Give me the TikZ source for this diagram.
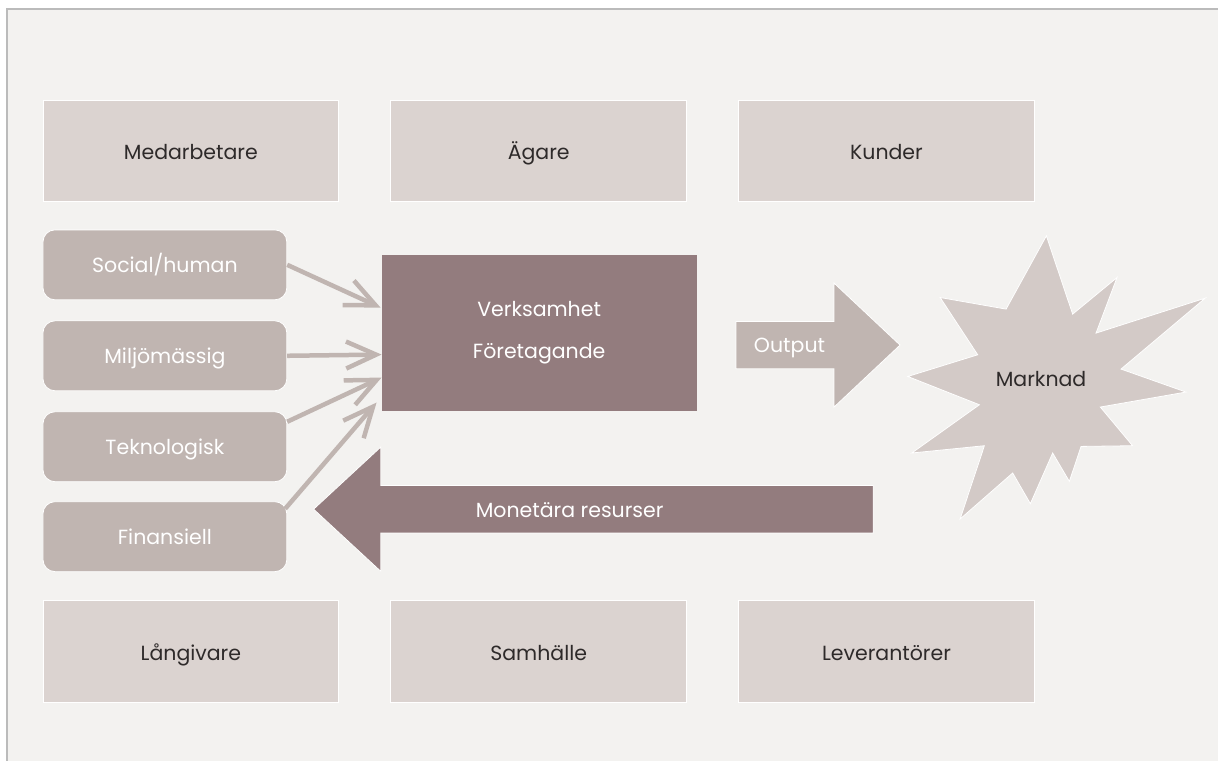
\documentclass[tikz,border=0pt]{standalone}
\usepackage{fontspec}
\setmainfont{Poppins}
\usetikzlibrary{arrows.meta,calc}
\definecolor{bg}{HTML}{F3F2F0}
\definecolor{pale}{HTML}{DBD3D0}
\definecolor{mid}{HTML}{C0B5B1}
\definecolor{dark}{HTML}{937C7E}
\definecolor{starc}{HTML}{D3CAC7}
\definecolor{framec}{HTML}{BBBBBB}
\definecolor{txt}{HTML}{2E2A2A}
\begin{document}
\begin{tikzpicture}[x=1pt,y=-1pt,
  lbl/.style={font=\fontsize{20.5}{24}\selectfont, inner sep=0pt},
  stake/.style={lbl, fill=pale, draw=white, line width=0.8pt, minimum width=296pt, minimum height=102pt, text=txt, text height=18pt, text depth=0pt},
  capital/.style={lbl, fill=mid, draw=white, line width=0.8pt, rounded corners=12pt, minimum width=244pt, minimum height=70pt, text=white, text height=15pt, text depth=0pt},
  core/.style={lbl, fill=dark, minimum width=315pt, minimum height=156pt, text=white, align=center, font=\fontsize{20.5}{42}\selectfont},
  feed/.style={draw=mid, line width=4.5pt, -{Straight Barb[length=30pt,width=27pt]}},
  bigarrow/.style={draw=white, line width=0.8pt}
]
% canvas
\fill[white] (0,0) rectangle (1219,761);
\fill[bg] (7,9) rectangle (1219,761);
\draw[framec, line width=1.5pt] (7,761) -- (7,9) -- (1219,9);
\useasboundingbox (0,0) rectangle (1219,761);

% stakeholders
\node[stake] (med) at (191,151) {Medarbetare};
\node[stake] (aga) at (539,151) {Ägare};
\node[stake] (kun) at (887,151) {Kunder};
\node[stake] (lan) at (191,652) {Långivare};
\node[stake] (sam) at (539,652) {Samhälle};
\node[stake] (lev) at (887,652) {Leverantörer};

% capitals
\node[capital] (s1) at (165,265) {Social/human};
\node[capital] (s2) at (165,356) {Miljömässig};
\node[capital] (s3) at (165,447) {Teknologisk};
\node[capital] (s4) at (165,537) {Finansiell};

% core
\node[core] (vf) at (539.5,333) {};
\node[lbl, text=white, anchor=base] (vf1) at (539.5,317) {Verksamhet};
\node[lbl, text=white, anchor=base] (vf2) at (539.5,359) {Företagande};

% feed arrows
\draw[feed] (s1.east) -- ($(vf.north west)+(-1,53)$);
\draw[feed] (s2.east) -- ($(vf.north west)+(0,100)$);
\draw[feed] ($(s3.east)+(0,-25)$) -- ($(vf.north west)+(0,123)$);
\draw[feed] ($(s4.east)+(-2,-28)$) -- ($(vf.north west)+(-5,148)$);

% output arrow
\coordinate (o1) at (736.5,321.7);
\coordinate (o2) at (834.6,321.7);
\coordinate (o3) at (834.6,283.3);
\coordinate (o4) at (900.6,345.3);
\coordinate (o5) at (834.6,407.3);
\coordinate (o6) at (834.6,369);
\coordinate (o7) at (736.5,369);
\filldraw[bigarrow, fill=mid] (o1) -- (o2) -- (o3) -- (o4) -- (o5) -- (o6) -- (o7) -- cycle;
\node[lbl, text=white, anchor=base] (out) at (790,353) {Output};

% monetary arrow
\coordinate (m1) at (873.7,485.7);
\coordinate (m2) at (381,485.7);
\coordinate (m3) at (381,447.3);
\coordinate (m4) at (313.8,509.5);
\coordinate (m5) at (381,571.7);
\coordinate (m6) at (381,533.3);
\coordinate (m7) at (873.7,533.3);
\filldraw[bigarrow, fill=dark] (m1) -- (m2) -- (m3) -- (m4) -- (m5) -- (m6) -- (m7) -- cycle;
\node[lbl, text=white, anchor=base] (mon) at (570,518) {Monetära resurser};

% market starburst
\filldraw[draw=white, line width=0.8pt, fill=starc]
  (1047,236) -- (1073.3,314.3) -- (1117.7,277.7) -- (1096.7,333.3) -- (1206,298.3)
  -- (1121.7,369.3) -- (1186.7,392.3) -- (1101,407.3) -- (1133.3,446) -- (1081.7,446.7)
  -- (1070,481.7) -- (1053.3,453.3) -- (1031,504) -- (1013.3,473.3) -- (960.7,519.3)
  -- (985,446) -- (912.3,453.3) -- (980,405) -- (908.3,376.7) -- (978.3,355)
  -- (940.7,297.7) -- (1006.7,309.3) -- cycle;
\node[lbl, text=txt, anchor=base] (mkt) at (1041.7,387) {Marknad};
\end{tikzpicture}
\end{document}
